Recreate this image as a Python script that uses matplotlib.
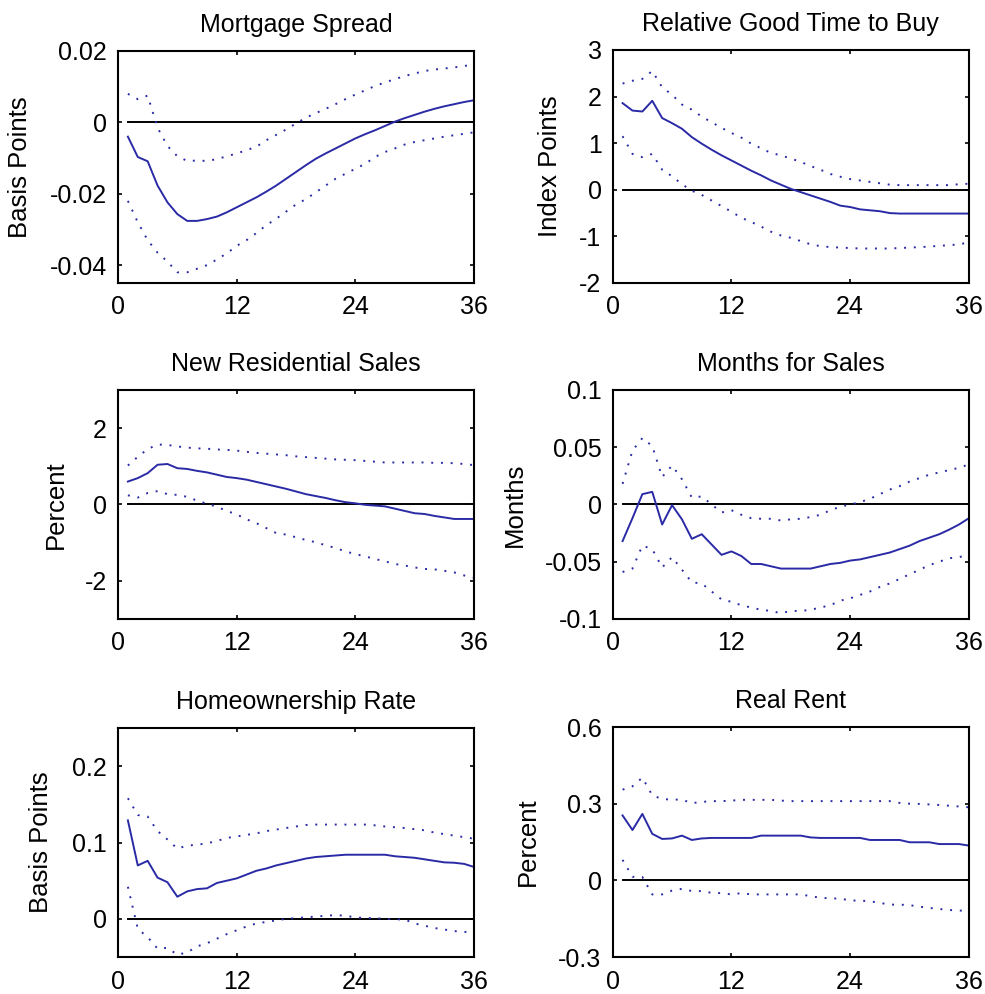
import numpy as np
import matplotlib
matplotlib.use("Agg")
import matplotlib.pyplot as plt

plt.rcParams['font.family'] = ['Liberation Sans', 'DejaVu Sans']

# horizon (months)
months = list(range(1, 37))

# Mortgage Spread
ms_irf = [-0.0040, -0.0097, -0.0109, -0.0177, -0.0224, -0.0257, -0.0276, -0.0276, -0.0271, -0.0264,
          -0.0252, -0.0238, -0.0224, -0.0210, -0.0194, -0.0177, -0.0158, -0.0139, -0.0120, -0.0102,
          -0.0087, -0.0073, -0.0059, -0.0045, -0.0033, -0.0022, -0.0010, 0.0002, 0.0012, 0.0021,
          0.0030, 0.0038, 0.0045, 0.0051, 0.0057, 0.0062]
ms_hi = [0.0080, 0.0065, 0.0075, -0.0015, -0.0066, -0.0095, -0.0108, -0.0107, -0.0108, -0.0103,
         -0.0095, -0.0087, -0.0078, -0.0068, -0.0050, -0.0035, -0.0020, -0.0003, 0.0013, 0.0026,
         0.0038, 0.0051, 0.0065, 0.0078, 0.0090, 0.0102, 0.0112, 0.0121, 0.0130, 0.0137,
         0.0144, 0.0148, 0.0151, 0.0154, 0.0158, 0.0162]
ms_lo = [-0.0220, -0.0280, -0.0330, -0.0365, -0.0390, -0.0420, -0.0420, -0.0410, -0.0400, -0.0384,
         -0.0367, -0.0346, -0.0330, -0.0310, -0.0288, -0.0270, -0.0250, -0.0230, -0.0215, -0.0196,
         -0.0177, -0.0158, -0.0144, -0.0130, -0.0116, -0.0097, -0.0083, -0.0073, -0.0062, -0.0055,
         -0.0050, -0.0045, -0.0040, -0.0036, -0.0032, -0.0028]

# Relative Good Time to Buy
gt_irf = [1.86, 1.70, 1.68, 1.91, 1.54, 1.43, 1.31, 1.13, 0.99, 0.86,
          0.74, 0.63, 0.52, 0.41, 0.31, 0.20, 0.11, 0.02, -0.05, -0.12,
          -0.19, -0.26, -0.34, -0.37, -0.42, -0.44, -0.46, -0.50, -0.51, -0.51,
          -0.51, -0.51, -0.51, -0.51, -0.51, -0.51]
gt_hi = [2.28, 2.34, 2.38, 2.55, 2.20, 2.04, 1.83, 1.72, 1.57, 1.45,
         1.33, 1.22, 1.12, 0.99, 0.89, 0.79, 0.74, 0.67, 0.60, 0.51,
         0.43, 0.34, 0.28, 0.23, 0.20, 0.17, 0.14, 0.11, 0.10, 0.10,
         0.10, 0.10, 0.10, 0.10, 0.12, 0.13]
gt_lo = [1.15, 0.77, 0.70, 0.77, 0.43, 0.29, 0.12, -0.02, -0.11, -0.23,
         -0.35, -0.47, -0.60, -0.69, -0.79, -0.90, -0.98, -1.03, -1.10, -1.17,
         -1.21, -1.23, -1.24, -1.25, -1.26, -1.26, -1.26, -1.26, -1.25, -1.24,
         -1.23, -1.22, -1.20, -1.19, -1.17, -1.13]

# New Residential Sales
ns_irf = [0.60, 0.69, 0.82, 1.04, 1.06, 0.95, 0.93, 0.88, 0.84, 0.78,
          0.72, 0.69, 0.65, 0.59, 0.53, 0.47, 0.41, 0.34, 0.27, 0.22,
          0.17, 0.11, 0.06, 0.03, -0.01, -0.03, -0.05, -0.11, -0.17, -0.23,
          -0.25, -0.30, -0.34, -0.38, -0.38, -0.38]
ns_hi = [1.02, 1.25, 1.45, 1.57, 1.56, 1.52, 1.49, 1.47, 1.46, 1.44,
         1.43, 1.41, 1.38, 1.35, 1.33, 1.31, 1.29, 1.26, 1.24, 1.22,
         1.20, 1.18, 1.17, 1.16, 1.14, 1.12, 1.10, 1.10, 1.10, 1.10,
         1.10, 1.09, 1.09, 1.08, 1.06, 1.03]
ns_lo = [0.24, 0.18, 0.30, 0.35, 0.27, 0.25, 0.20, 0.10, 0.02, -0.06,
         -0.17, -0.26, -0.39, -0.49, -0.62, -0.75, -0.79, -0.86, -0.93, -0.99,
         -1.07, -1.14, -1.23, -1.30, -1.36, -1.43, -1.49, -1.56, -1.60, -1.65,
         -1.69, -1.70, -1.74, -1.78, -1.86, -1.92]

# Months for Sales
mf_irf = [-0.032, -0.012, 0.009, 0.011, -0.0175, -0.0006, -0.013, -0.030, -0.026, -0.035,
          -0.044, -0.041, -0.045, -0.052, -0.052, -0.054, -0.056, -0.056, -0.056, -0.056,
          -0.054, -0.052, -0.051, -0.049, -0.048, -0.046, -0.044, -0.042, -0.039, -0.036,
          -0.032, -0.029, -0.026, -0.022, -0.0175, -0.012]
mf_hi = [0.018, 0.047, 0.058, 0.051, 0.024, 0.034, 0.022, 0.006, 0.007, 0.000,
         -0.007, -0.005, -0.009, -0.012, -0.0125, -0.0125, -0.014, -0.013, -0.0125, -0.011,
         -0.009, -0.005, -0.002, 0.000, 0.002, 0.005, 0.009, 0.013, 0.016, 0.020,
         0.023, 0.026, 0.028, 0.030, 0.032, 0.035]
mf_lo = [-0.059, -0.056, -0.036, -0.039, -0.055, -0.046, -0.057, -0.068, -0.069, -0.076,
         -0.083, -0.085, -0.088, -0.090, -0.092, -0.093, -0.095, -0.093, -0.093, -0.092,
         -0.090, -0.088, -0.084, -0.082, -0.079, -0.076, -0.072, -0.069, -0.065, -0.061,
         -0.057, -0.053, -0.050, -0.047, -0.046, -0.044]

# Homeownership Rate
ho_irf = [0.129, 0.070, 0.076, 0.054, 0.048, 0.029, 0.036, 0.039, 0.040, 0.047,
          0.050, 0.053, 0.058, 0.063, 0.066, 0.070, 0.073, 0.076, 0.079, 0.081,
          0.082, 0.083, 0.084, 0.084, 0.084, 0.084, 0.084, 0.082, 0.081, 0.080,
          0.078, 0.076, 0.074, 0.0735, 0.072, 0.068]
ho_hi = [0.158, 0.136, 0.134, 0.115, 0.104, 0.092, 0.096, 0.097, 0.099, 0.102,
         0.106, 0.108, 0.110, 0.112, 0.115, 0.117, 0.119, 0.121, 0.123, 0.1235,
         0.1235, 0.1235, 0.1235, 0.1235, 0.1235, 0.1225, 0.121, 0.120, 0.119, 0.1175,
         0.116, 0.113, 0.111, 0.109, 0.107, 0.105]
ho_lo = [0.042, -0.013, -0.024, -0.039, -0.038, -0.047, -0.044, -0.036, -0.032, -0.026,
         -0.020, -0.015, -0.010, -0.006, -0.004, -0.002, 0.000, 0.001, 0.002, 0.003,
         0.004, 0.005, 0.004, 0.002, 0.001, 0.001, 0.000, -0.0005, -0.001, -0.006,
         -0.009, -0.012, -0.014, -0.016, -0.017, -0.018]

# Real Rent
rr_irf = [0.254, 0.197, 0.260, 0.182, 0.162, 0.164, 0.175, 0.158, 0.164, 0.166,
          0.166, 0.166, 0.166, 0.166, 0.175, 0.175, 0.175, 0.175, 0.175, 0.168,
          0.166, 0.166, 0.166, 0.166, 0.166, 0.158, 0.158, 0.158, 0.158, 0.149,
          0.149, 0.149, 0.142, 0.142, 0.142, 0.136]
rr_hi = [0.355, 0.368, 0.402, 0.333, 0.318, 0.316, 0.316, 0.302, 0.307, 0.310,
         0.310, 0.312, 0.315, 0.315, 0.315, 0.315, 0.312, 0.310, 0.310, 0.310,
         0.310, 0.310, 0.310, 0.310, 0.310, 0.310, 0.310, 0.310, 0.303, 0.300,
         0.299, 0.297, 0.295, 0.292, 0.289, 0.286]
rr_lo = [0.080, 0.014, 0.013, -0.055, -0.055, -0.040, -0.033, -0.042, -0.042, -0.049,
         -0.050, -0.055, -0.050, -0.055, -0.055, -0.055, -0.055, -0.055, -0.055, -0.062,
         -0.068, -0.071, -0.071, -0.079, -0.079, -0.082, -0.088, -0.095, -0.095, -0.097,
         -0.103, -0.108, -0.112, -0.116, -0.118, -0.120]

titles = ["Mortgage Spread", "Relative Good Time to Buy", "New Residential Sales",
          "Months for Sales", "Homeownership Rate", "Real Rent"]
ylabels = ["Basis Points", "Index Points", "Percent", "Months", "Basis Points", "Percent"]
irfs = [ms_irf, gt_irf, ns_irf, mf_irf, ho_irf, rr_irf]
his = [ms_hi, gt_hi, ns_hi, mf_hi, ho_hi, rr_hi]
los = [ms_lo, gt_lo, ns_lo, mf_lo, ho_lo, rr_lo]
ylims = [(-0.045, 0.02), (-2, 3), (-3, 3), (-0.1, 0.1), (-0.05, 0.25), (-0.3, 0.6)]
yticks = [[-0.04, -0.02, 0, 0.02], [-2, -1, 0, 1, 2, 3], [-2, 0, 2],
          [-0.1, -0.05, 0, 0.05, 0.1], [0, 0.1, 0.2], [-0.3, 0, 0.3, 0.6]]
ytick_labels = [["-0.04", "-0.02", "0", "0.02"], ["-2", "-1", "0", "1", "2", "3"], ["-2", "0", "2"],
                ["-0.1", "-0.05", "0", "0.05", "0.1"], ["0", "0.1", "0.2"], ["-0.3", "0", "0.3", "0.6"]]
xticks = [0, 12, 24, 36]

# axes boxes in figure fractions (left, bottom, width, height)
boxes = [(0.1198, 0.7153, 0.3614, 0.2334), (0.6220, 0.7153, 0.3617, 0.2344),
         (0.1198, 0.3773, 0.3614, 0.2304), (0.6220, 0.3773, 0.3617, 0.2304),
         (0.1198, 0.0372, 0.3614, 0.2304), (0.6220, 0.0372, 0.3617, 0.2314)]
# right edge of the rotated y label, in axes fraction
label_x = [-0.242, -0.142, -0.140, -0.241, -0.183, -0.204]

blue = '#2a2aa6'
fig = plt.figure(figsize=(9.85, 9.94), dpi=100)

for i in range(6):
    ax = fig.add_axes(boxes[i])
    ax.plot(months, np.zeros(len(months)), color='black', lw=1.4)
    ax.plot(months, irfs[i], color=blue, lw=1.4)
    ax.plot(months, his[i], color=blue, lw=1.4, ls=(0, (1, 4)))
    ax.plot(months, los[i], color=blue, lw=1.4, ls=(0, (1, 4)))
    ax.set_xlim(0, 36)
    ax.set_ylim(*ylims[i])
    ax.set_xticks(xticks)
    ax.set_xticklabels([str(t) for t in xticks])
    ax.set_yticks(yticks[i])
    ax.set_yticklabels(ytick_labels[i])
    ax.tick_params(direction='in', length=3, width=1.2, top=True, right=True,
                   labelsize=18, pad=8)
    ax.tick_params(axis='x', pad=9)
    for s in ax.spines.values():
        s.set_linewidth(1.5)
    ax.set_title(titles[i], fontsize=18, pad=14)
    ax.set_ylabel(ylabels[i], fontsize=18.5)
    ax.yaxis.set_label_coords(label_x[i], 0.5)

fig.savefig("out.png", dpi=100)
